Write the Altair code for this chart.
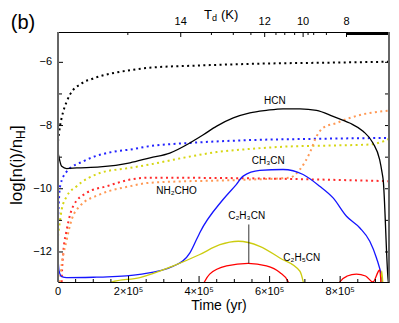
import altair as alt
import pandas as pd

# ---------------- data (time in yr, log abundance) ----------------
blk_dot_t = [0, 5.7e3, 1.05e4, 1.5e4, 2.5e4, 3.4e4, 4.8e4, 6.2e4, 7.6e4, 9.1e4, 1.05e5, 1.19e5,
             1.47e5, 1.66e5, 2.6e5, 4.0e5, 5.8e5, 7.7e5, 9.385e5]
blk_dot_v = [-8.5, -8.02, -7.75, -7.55, -7.23, -7.02, -6.81, -6.71, -6.6, -6.55, -6.49, -6.44,
             -6.36, -6.32, -6.17, -6.1, -6.04, -6.01, -5.98]

blu_dot_t = [0, 5.7e3, 2.5e4, 7.2e4, 1.66e5, 2.04e5, 2.61e5, 3.74e5, 5.44e5, 7.33e5, 9.385e5]
blu_dot_v = [-10.98, -9.93, -9.45, -9.13, -8.81, -8.76, -8.65, -8.55, -8.46, -8.42, -8.39]

yel_dot_t = [0, 1.05e4, 2.5e4, 5.3e4, 1.19e5, 2.04e5, 2.61e5, 3.55e5, 4.5e5, 5.44e5, 6.38e5,
             7.8e5, 8.84e5, 9.22e5, 9.385e5]
yel_dot_v = [-11.5, -10.66, -10.24, -9.92, -9.5, -9.34, -9.23, -9.02, -8.84, -8.74, -8.67,
             -8.63, -8.6, -8.5, -8.42]

nh2cho_t = [1.0e4, 1.05e4, 1.5e4, 2.5e4, 4.3e4, 8.1e4, 1.38e5, 2.04e5, 2.61e5, 5.44e5, 9.385e5]
nh2cho_v = [-13.3, -12.9, -12.02, -11.29, -10.55, -10.13, -9.92, -9.71, -9.65, -9.67, -9.76]

org_dot_t = [4e3, 5.7e3, 2.5e4, 3.9e4, 6.2e4, 1.19e5, 2.04e5, 2.61e5, 5.44e5, 6.57e5, 6.86e5,
             7.14e5, 7.33e5, 7.52e5, 7.9e5, 8.27e5, 8.75e5, 9.385e5]
org_dot_v = [-13.3, -12.9, -11.6, -10.97, -10.55, -10.18, -9.92, -9.81, -9.71, -9.65, -9.39,
             -8.86, -8.34, -8.07, -7.92, -7.76, -7.62, -7.53]

hcn_t = [0, 1.05e4, 2.46e4, 5.3e4, 1.19e5, 2.04e5, 2.61e5, 3.17e5, 3.74e5, 4.12e5, 4.5e5,
         4.97e5, 5.44e5, 5.91e5, 6.38e5, 6.86e5, 7.33e5, 7.8e5, 8.27e5, 8.65e5, 8.93e5,
         9.12e5, 9.19e5, 9.22e5, 9.36e5, 9.40e5]
hcn_v = [-8.85, -9.29, -9.36, -9.34, -9.31, -9.18, -9.02, -8.87, -8.55, -8.29, -8.02,
         -7.76, -7.6, -7.52, -7.47, -7.47, -7.52, -7.71, -7.92, -8.18, -8.55,
         -9.08, -9.5, -9.72, -12.88, -13.2]

ch3cn_t = [0, 3e3, 1.05e4, 2.5e4, 1.0e5, 1.4e5, 2.32e5, 3.27e5, 3.74e5, 3.93e5, 4.02e5,
           4.68e5, 5.06e5, 5.25e5, 5.72e5, 6.38e5, 6.95e5, 7.42e5, 7.8e5, 8.18e5, 8.56e5,
           8.84e5, 9.03e5, 9.17e5, 9.24e5]
ch3cn_v = [-12.17, -12.6, -12.78, -12.81, -12.8, -12.79, -12.71, -12.45, -12.03, -11.6, -11.39,
           -10.34, -9.86, -9.6, -9.42, -9.39, -9.55, -9.92, -10.29, -10.87, -11.24,
           -11.66, -12.19, -12.77, -13.3]

c2h3cn_t = [1.45e5, 1.52e5, 2.32e5, 3.27e5, 4.02e5, 4.59e5, 5.11e5, 5.72e5, 6.29e5, 6.86e5, 6.95e5, 7.0e5]
c2h3cn_v = [-13.2, -12.95, -12.81, -12.44, -12.08, -11.77, -11.66, -11.82, -12.19, -12.61, -12.93, -13.2]
c2h3cn_late_t = [9.14e5, 9.18e5, 9.22e5]
c2h3cn_late_v = [-13.2, -12.6, -13.2]

c2h5cn_t = [4.05e5, 4.15e5, 4.3e5, 4.78e5, 5.39e5, 5.91e5, 6.29e5, 6.52e5, 6.6e5]
c2h5cn_v = [-13.2, -12.95, -12.7, -12.44, -12.36, -12.44, -12.65, -12.93, -13.2]
c2h5cn_late_t = [7.95e5, 7.99e5, 8.2e5, 8.46e5, 8.72e5, 8.93e5, 9.12e5, 9.17e5]
c2h5cn_late_v = [-13.2, -12.95, -12.76, -12.7, -12.76, -12.95, -12.57, -13.2]

# species labels
lab_text = ["HCN", "CH₃CN", "NH₂CHO", "C₂H₃CN", "C₂H₅CN"]
lab_t = [6.15e5, 5.96e5, 3.36e5, 5.35e5, 6.91e5]
lab_v = [-7.23, -9.13, -10.08, -10.85, -12.18]

# pointer line from C2H3CN label
ptr_t = [5.41e5]
ptr_v1 = [-11.13]
ptr_v2 = [-12.36]

# bottom axis
x_label_vals = [0, 2e5, 4e5, 6e5, 8e5]
x_label_txt = ["0", "2×10⁵", "4×10⁵", "6×10⁵", "8×10⁵"]
x_minor = [5e4, 1e5, 1.5e5, 2.5e5, 3e5, 3.5e5, 4.5e5, 5e5, 5.5e5, 6.5e5, 7e5, 7.5e5, 8.5e5, 9e5]
# left / right axis
y_label_vals = [-12, -10, -8, -6]
y_label_txt = ["−12", "−10", "−8", "−6"]
y_minor = [-11, -9, -7]
# top T_d axis (positions in time)
td_major_t = [3.48e5, 5.86e5, 6.95e5, 8.18e5]
td_major_lab = ["14", "12", "10", "8"]
td_minor_t = [1.98e5, 4.35e5, 4.97e5, 5.47e5, 6.18e5, 6.43e5, 6.71e5, 7.09e5, 7.25e5, 7.61e5]
td_bar_t = [8.18e5]
td_bar_t2 = [9.385e5]

# ---------------- chart ----------------
W, H = 331, 250
FONT = "Liberation Sans"
xs = alt.Scale(domain=[0, 9.385e5], nice=False, zero=False)
ys = alt.Scale(domain=[-12.95, -5.04], nice=False, zero=False)


def X(f="t"):
    return alt.X(f"{f}:Q", scale=xs, axis=None)


def Y(f="v"):
    return alt.Y(f"{f}:Q", scale=ys, axis=None)


def line_layer(t, v, color, dash=None, width=1.3):
    df = pd.DataFrame({"t": t, "v": v})
    kw = dict(color=color, strokeWidth=width, clip=True, interpolate="monotone")
    if dash:
        kw["strokeDash"] = dash
        kw["strokeCap"] = "butt"
    return alt.Chart(df).mark_line(**kw).encode(x=X(), y=Y())


DOT = [2, 3.4]
layers = [
    line_layer(blk_dot_t, blk_dot_v, "black", DOT, 2),
    line_layer(blu_dot_t, blu_dot_v, "#2222ff", DOT, 2),
    line_layer(yel_dot_t, yel_dot_v, "#d6d614", DOT, 2),
    line_layer(nh2cho_t, nh2cho_v, "#ff2a2a", DOT, 2),
    line_layer(org_dot_t, org_dot_v, "#ff9955", DOT, 2),
    line_layer(hcn_t, hcn_v, "black"),
    line_layer(ch3cn_t, ch3cn_v, "#1515ff"),
    line_layer(c2h3cn_t, c2h3cn_v, "#cccc10"),
    line_layer(c2h3cn_late_t, c2h3cn_late_v, "#cccc10"),
    line_layer(c2h5cn_t, c2h5cn_v, "#ff0000"),
    line_layer(c2h5cn_late_t, c2h5cn_late_v, "#ff0000"),
]

# pointer
layers.append(alt.Chart(pd.DataFrame({"t": ptr_t, "v1": ptr_v1, "v2": ptr_v2})).mark_rule(
    color="black", strokeWidth=0.8).encode(x=X(), y=Y("v1"), y2="v2:Q"))

# species labels
layers.append(alt.Chart(pd.DataFrame({"t": lab_t, "v": lab_v, "s": lab_text})).mark_text(
    font=FONT, fontSize=10, color="black").encode(x=X(), y=Y(), text="s:N"))


# ticks (inward)
def xticks(vals, y0, y1, width=1):
    return alt.Chart(pd.DataFrame({"t": vals})).mark_rule(color="black", strokeWidth=width).encode(
        x=X(), y=alt.value(y0), y2=alt.value(y1))


def yticks(vals, x0, x1):
    return alt.Chart(pd.DataFrame({"v": vals})).mark_rule(color="black", strokeWidth=1).encode(
        y=Y(), x=alt.value(x0), x2=alt.value(x1))


layers += [
    xticks(x_label_vals, H, H - 6),
    xticks(x_minor, H, H - 3),
    xticks(td_major_t, 0, 5),
    xticks(td_minor_t, 0, 3),
    yticks(y_label_vals, 0, 5),
    yticks(y_minor, 0, 4),
    yticks(y_label_vals + y_minor, W, W - 4),
]

# thick bar on T_d axis
layers.append(alt.Chart(pd.DataFrame({"t": td_bar_t, "t2": td_bar_t2})).mark_rule(
    color="black", strokeWidth=3).encode(x=X(), x2="t2:Q", y=alt.value(1.5)))

# tick labels
layers.append(alt.Chart(pd.DataFrame({"t": td_major_t, "s": td_major_lab})).mark_text(
    font=FONT, fontSize=11, color="black", baseline="middle").encode(
    x=X(), y=alt.value(-10), text="s:N"))
layers.append(alt.Chart(pd.DataFrame({"t": x_label_vals, "s": x_label_txt})).mark_text(
    font=FONT, fontSize=11, color="black", baseline="middle").encode(
    x=X(), y=alt.value(H + 10), text="s:N"))
layers.append(alt.Chart(pd.DataFrame({"v": y_label_vals, "s": y_label_txt})).mark_text(
    font=FONT, fontSize=11, color="black", baseline="middle", align="right").encode(
    y=Y(), x=alt.value(-6), text="s:N"))

# left & right gray spines
layers.append(alt.Chart(pd.DataFrame({"k": [0]})).mark_rule(color="#666666", strokeWidth=2).encode(
    x=alt.value(0), y=alt.value(0), y2=alt.value(H)))
layers.append(alt.Chart(pd.DataFrame({"k": [0]})).mark_rule(color="#666666", strokeWidth=2).encode(
    x=alt.value(W), y=alt.value(0), y2=alt.value(H)))


def ptext(text, x, y, size, dx=0, dy=0, angle=0, align="left"):
    kw = dict(text=text, font=FONT, fontSize=size, color="black", align=align,
              baseline="middle", dx=dx, dy=dy)
    if angle:
        kw["angle"] = angle
    return alt.Chart(pd.DataFrame({"k": [0]})).mark_text(**kw).encode(
        x=alt.value(x), y=alt.value(y))


layers += [
    ptext("(b)", -35, -9, 20, align="center"),
    # T_d (K)
    ptext("T", 146, -17, 13),
    ptext("d", 146, -17, 9, dx=8, dy=3),
    ptext("(K)", 146, -17, 13, dx=17),
    # x title
    ptext("Time (yr)", 161, H + 24, 14, align="center"),
    # y title: log[n(i)/n_H]
    ptext("log[n(i)/n", -41, 173, 17, angle=270),
    ptext("H", -41, 173, 12, dx=66, dy=4, angle=270),
    ptext("]", -41, 173, 17, dx=75, angle=270),
]

chart = alt.layer(*layers).properties(
    width=W, height=H,
    padding={"left": 50, "top": 24, "right": 1, "bottom": 32},
    autosize=alt.AutoSizeParams(type="none"),
).configure_view(stroke="black", strokeWidth=1)

chart.save("out.html", embed_options={"renderer": "svg", "actions": False})
